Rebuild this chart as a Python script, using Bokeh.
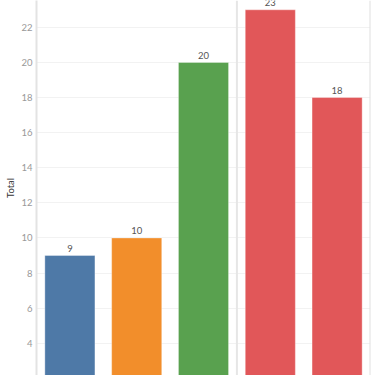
from bokeh.plotting import figure
from bokeh.models import ColumnDataSource, FixedTicker, Span, Range1d, FactorRange
from bokeh.core.properties import value
from bokeh.embed import file_html
from bokeh.resources import INLINE

categories = ["A", "B", "C", "D", "E"]
totals = [9, 10, 20, 23, 18]
colors = ["#4e79a7", "#f28e2b", "#59a14f", "#e15759", "#e15759"]
y_ticks = [2, 4, 6, 8, 10, 12, 14, 16, 18, 20, 22]

src = ColumnDataSource(dict(cat=categories, total=totals, color=colors,
                            label=[str(t) for t in totals]))

p = figure(x_range=FactorRange(*categories, range_padding=0),
           y_range=Range1d(2.16, 23.53),
           width=380, height=375, output_backend="svg", toolbar_location=None,
           min_border_left=36, min_border_right=10, min_border_top=0, min_border_bottom=0)

p.vbar(x="cat", top="total", bottom=0, width=0.75, source=src,
       fill_color="color", line_color="white", line_alpha=0.35, line_width=1)

p.text(x="cat", y="total", text="label", source=src, text_align="center",
       text_baseline="bottom", y_offset=-3.5, text_font=value("Lato"),
       text_font_size="9.5px", text_color="#555555")

p.xaxis.visible = False
p.xgrid.visible = False
p.ygrid.grid_line_color = "#f2f2f2"
p.ygrid.grid_line_width = 1
p.yaxis.ticker = FixedTicker(ticks=y_ticks)
p.yaxis.axis_label = "Total"
p.yaxis.axis_label_text_font = "Lato"
p.yaxis.axis_label_text_font_style = "normal"
p.yaxis.axis_label_text_font_size = "9.5px"
p.yaxis.axis_label_text_color = "#333333"
p.yaxis.axis_label_standoff = 2
p.yaxis.major_label_text_font = "Lato"
p.yaxis.major_label_text_font_size = "9.5px"
p.yaxis.major_label_text_color = "#999999"
p.yaxis.major_label_standoff = 4
p.yaxis.major_tick_out = 0
p.yaxis.major_tick_in = 0
p.yaxis.minor_tick_out = 0
p.yaxis.minor_tick_in = 0
p.yaxis.major_tick_line_color = None
p.yaxis.minor_tick_line_color = None
p.yaxis.axis_line_color = "#e3e3e3"
p.yaxis.axis_line_width = 2
p.outline_line_color = None

p.add_layout(Span(location=3, dimension="height", line_color="#e6e6e6", line_width=2))
p.add_layout(Span(location=5, dimension="height", line_color="#e0e0e0", line_width=2))

open("out.html", "w").write(file_html(p, INLINE))
